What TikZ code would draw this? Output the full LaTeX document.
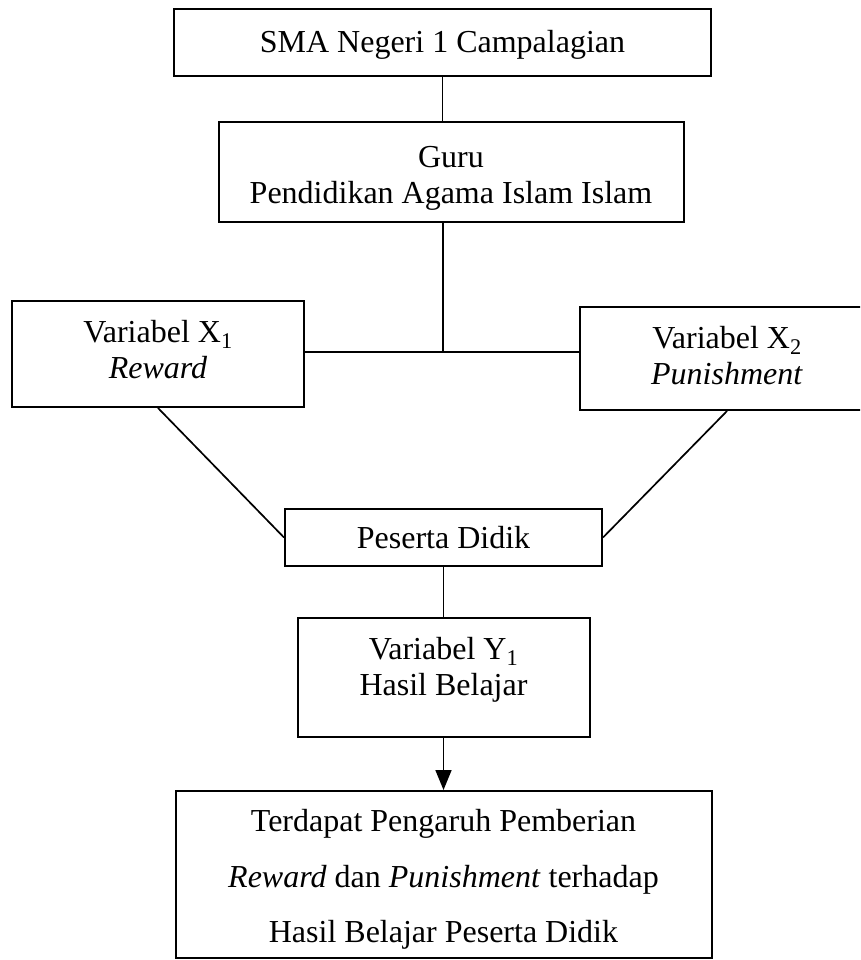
\documentclass[tikz,border=0pt]{standalone}
\usepackage{fontspec}
\setmainfont{Liberation Serif}
\usetikzlibrary{arrows.meta}
\begin{document}
\begin{tikzpicture}[x=1pt,y=-1pt,
  boxshape/.style n args={2}{draw=black, line width=2pt, minimum width=#1, minimum height=#2, inner sep=0pt},
  lbl/.style={align=center, font=\fontsize{32}{36}\selectfont, inner sep=0pt},
  conn/.style={draw=black, line width=1.7pt}]
\useasboundingbox (0,0) rectangle (860,960);
\clip (0,0) rectangle (860,960);
% boxes
\node[boxshape={537pt}{67pt}]  (b1) at (442.5,42.5) {};
\node[boxshape={465pt}{99pt}]  (b2) at (451,172) {};
\node[boxshape={292pt}{106pt}] (x1) at (158,354) {};
\node[boxshape={294pt}{103pt}] (x2) at (727,358.5) {};
\node[boxshape={317pt}{57pt}]  (pd) at (443.5,537.5) {};
\node[boxshape={292pt}{119pt}] (yb) at (443.5,677.5) {};
\node[boxshape={536pt}{167pt}] (cb) at (443.5,874.5) {};
% labels
\node[lbl, yshift=-2.5pt] (t1) at (b1.center) {SMA Negeri 1 Campalagian};
\node[lbl, yshift=-6pt]   (t2) at (b2.center) {Guru\\Pendidikan Agama Islam Islam};
\node[lbl, yshift=4.5pt]  (t3) at (x1.center) {Variabel X\textsubscript{1}\\\textit{Reward}};
\node[lbl, yshift=3pt]    (t4) at (x2.center) {Variabel X\textsubscript{2}\\\textit{Punishment}};
\node[lbl]                (t5) at (pd.center) {Peserta Didik};
\node[lbl, yshift=8pt]    (t6) at (yb.center) {Variabel Y\textsubscript{1}\\Hasil Belajar};
\node[lbl, font=\fontsize{32}{55.5}\selectfont, yshift=-5pt] (t7) at (cb.center)
  {Terdapat Pengaruh Pemberian\\\textit{Reward} dan \textit{Punishment} terhadap\\Hasil Belajar Peserta Didik};
% connectors
\coordinate (j) at (443,352);
\draw[conn] (b1.south) -- (b1.south |- b2.north);
\draw[conn] (j |- b2.south) -- (j);
\draw[conn] (x1.east |- j) -- (x2.west |- j);
\draw[conn] (x1.south) -- (pd.west);
\draw[conn] (x2.south) -- (pd.east);
\draw[conn] (pd.south) -- (yb.north);
\draw[conn, -{Triangle[length=20pt,width=16pt]}] (yb.south) -- (cb.north);
\end{tikzpicture}
\end{document}
